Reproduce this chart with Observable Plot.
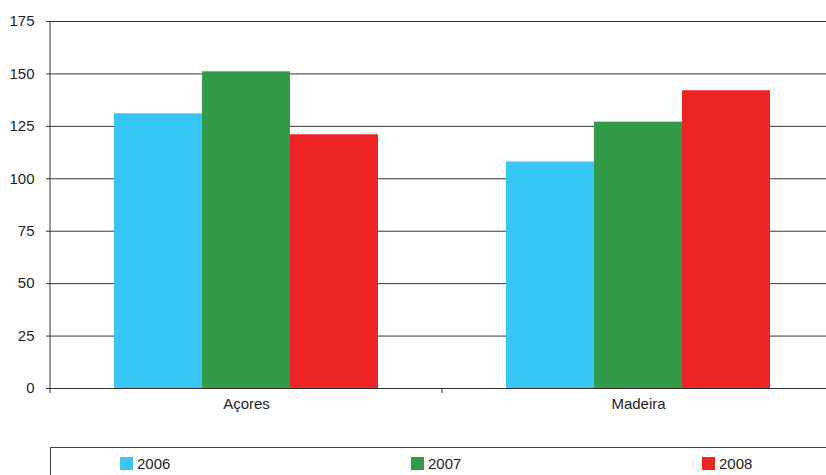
<!DOCTYPE html>
<html>
<head>
<meta charset="utf-8">
<script src="https://cdn.jsdelivr.net/npm/d3@7"></script>
<script src="https://cdn.jsdelivr.net/npm/@observablehq/plot@0.6"></script>
<style>
  html, body { margin: 0; padding: 0; background: #fff; overflow: hidden; width: 826px; height: 475px; }
  body { font-family: "Liberation Sans", Arial, sans-serif; color: #231f20; }
  #legend { margin-left: 50px; margin-top: 17px; width: 776px; height: 40px; overflow: hidden;
    border-top: 1px solid #444; border-left: 1px solid #444; display: flex; box-sizing: border-box; }
  .item { flex: 0 0 auto; width: 291px; padding-left: 69px; padding-top: 8px; box-sizing: border-box;
    display: flex; align-items: center; align-self: flex-start; font-size: 15px; line-height: 15px; }
  .sw { width: 13px; height: 13px; margin-right: 4px; display: inline-block; }
</style>
</head>
<body>
<div id="chart"></div>
<div id="legend"></div>
<script>
const regions = ["Açores", "Madeira"];
const years = ["2006", "2007", "2008"];
const acores = [131, 151, 121];
const madeira = [108, 127, 142];
const yTicks = [0, 25, 50, 75, 100, 125, 150, 175];
const colors = ["#38c6f4", "#329a49", "#ee2326"];

const seriesByRegion = { "Açores": acores, "Madeira": madeira };
const data = regions.flatMap(r => years.map((y, i) => ({ region: r, year: y, value: seriesByRegion[r][i] })));

const plot = Plot.plot({
  width: 826,
  height: 430,
  marginLeft: 50,
  marginRight: 0,
  marginTop: 21,
  marginBottom: 42,
  style: { fontFamily: "Liberation Sans, Arial, sans-serif", fontSize: "15px", color: "#231f20", background: "#fff" },
  y: { domain: [0, 175] },
  fx: { domain: regions, range: [50, 834], padding: 0 },
  x: { domain: years, paddingInner: 0, paddingOuter: 0.727 },
  color: { domain: years, range: colors },
  marks: [
    Plot.gridY(yTicks, { stroke: "#333", strokeOpacity: 1 }),
    Plot.barY(data, { fx: "region", x: "year", y: "value", fill: "year" }),
    Plot.axisY(yTicks, { tickSize: 4, tickPadding: 12, fontSize: 15, label: null, stroke: "#333" }),
    Plot.axisFx({ anchor: "bottom", tickSize: 0, tickPadding: 10, fontSize: 15, label: null }),
    Plot.axisX({ ticks: [], label: null })
  ]
});
document.getElementById("chart").appendChild(plot);

// axis line and category separators, positioned with the plot's own scales
const fx = plot.scale("fx");
const ys = plot.scale("y");
const svg = d3.select(plot);
const y0 = ys.apply(0);
svg.append("line")
  .attr("x1", fx.apply(regions[0])).attr("x2", fx.apply(regions[0]))
  .attr("y1", ys.apply(175)).attr("y2", y0 + 5)
  .attr("stroke", "#333");
regions.slice(1).forEach(r => {
  svg.append("line")
    .attr("x1", fx.apply(r)).attr("x2", fx.apply(r))
    .attr("y1", y0).attr("y2", y0 + 5)
    .attr("stroke", "#333");
});

const legend = d3.select("#legend");
years.forEach((y, i) => {
  const it = legend.append("div").attr("class", "item");
  it.append("span").attr("class", "sw").style("background", colors[i]);
  it.append("span").text(y);
});
</script>
</body>
</html>
